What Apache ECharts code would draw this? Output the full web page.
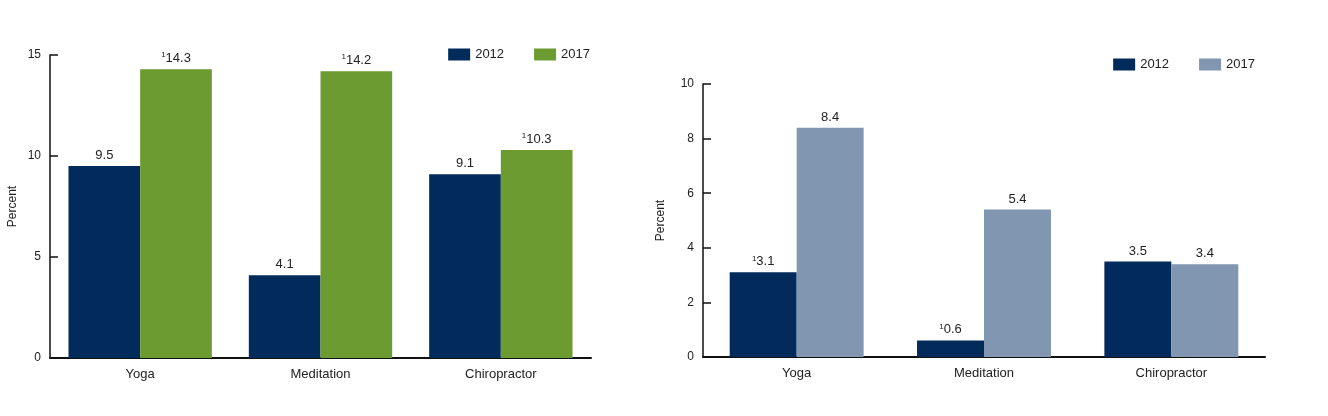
<!DOCTYPE html>
<html><head><meta charset="utf-8">
<script src="https://cdn.jsdelivr.net/npm/echarts@6/dist/echarts.min.js"></script>
<style>html,body{margin:0;padding:0;background:#fff}#c{width:1328px;height:416px}</style>
</head><body><div id="c"></div>
<script>
const categories = ['Yoga', 'Meditation', 'Chiropractor'];
const seriesNames = ['2012', '2017'];
const left2012 = [9.5, 4.1, 9.1];
const left2017 = [14.3, 14.2, 10.3];
const left2012Flag = [false, false, false];
const left2017Flag = [true, true, true];
const right2012 = [3.1, 0.6, 3.5];
const right2017 = [8.4, 5.4, 3.4];
const right2012Flag = [true, true, false];
const right2017Flag = [false, false, false];
const leftTicks = [0, 5, 10, 15];
const rightTicks = [0, 2, 4, 6, 8, 10];

const NAVY = '#022b5c', GREEN = '#6b9b31', GREY = '#8196b0';
const FONT = 'Liberation Sans, Arial, sans-serif';

function mkData(vals, flags) {
  return vals.map((v, i) => ({ value: v, flag: flags[i] }));
}
const labelCfg = {
  show: true, position: 'top', distance: 4, color: '#222', fontSize: 13, fontFamily: FONT,
  formatter: p => (p.data.flag ? '{s|1}' : '') + p.value,
  rich: { s: { fontSize: 8, verticalAlign: 'top', padding: [0, 0, 6, 0], color: '#222', fontFamily: FONT } }
};
function yAxis(idx, ticks) {
  return {
    type: 'value', gridIndex: idx, min: ticks[0], max: ticks[ticks.length - 1], interval: ticks[1] - ticks[0],
    name: 'Percent', nameLocation: 'middle', nameGap: idx === 0 ? 31 : 36,
    nameTextStyle: { color: '#222', fontSize: 12, fontFamily: FONT },
    axisLine: { show: true, lineStyle: { color: '#111', width: 1.5 } },
    axisTick: { show: true, inside: true, length: 8, lineStyle: { color: '#111', width: 1.5 } },
    axisLabel: { color: '#222', fontSize: 12, fontFamily: FONT, margin: 9 },
    splitLine: { show: false }
  };
}
function xAxis(idx) {
  return {
    type: 'category', gridIndex: idx, data: categories,
    axisLine: { show: true, lineStyle: { color: '#111', width: 2 } },
    axisTick: { show: false },
    axisLabel: { color: '#222', fontSize: 13, fontFamily: FONT, margin: 10 }
  };
}
function legend(right, top, c1, c2) {
  return {
    right: right, top: top, itemWidth: 22, itemHeight: 12, itemGap: 30, icon: 'rect',
    textStyle: { color: '#222', fontSize: 13, fontFamily: FONT },
    data: [
      { name: seriesNames[0], itemStyle: { color: c1 } },
      { name: seriesNames[1], itemStyle: { color: c2 } }
    ],
    selectedMode: false
  };
}
const chart = echarts.init(document.getElementById('c'), null, { renderer: 'canvas' });
chart.setOption({
  animation: false,
  textStyle: { fontFamily: FONT },
  grid: [
    { left: 50, right: 737, top: 55, bottom: 58 },
    { left: 703, right: 63, top: 84, bottom: 59 }
  ],
  legend: [legend(733, 43, NAVY, GREEN), legend(68, 53, NAVY, GREY)],
  xAxis: [xAxis(0), xAxis(1)],
  yAxis: [yAxis(0, leftTicks), yAxis(1, rightTicks)],
  series: [
    { name: seriesNames[0], type: 'bar', xAxisIndex: 0, yAxisIndex: 0, data: mkData(left2012, left2012Flag),
      itemStyle: { color: NAVY }, barGap: '0%', barCategoryGap: '20.5%', label: labelCfg },
    { name: seriesNames[1], type: 'bar', xAxisIndex: 0, yAxisIndex: 0, data: mkData(left2017, left2017Flag),
      itemStyle: { color: GREEN }, barGap: '0%', barCategoryGap: '20.5%', label: labelCfg },
    { name: seriesNames[0], type: 'bar', xAxisIndex: 1, yAxisIndex: 1, data: mkData(right2012, right2012Flag),
      itemStyle: { color: NAVY }, barGap: '0%', barCategoryGap: '28.5%', label: labelCfg },
    { name: seriesNames[1], type: 'bar', xAxisIndex: 1, yAxisIndex: 1, data: mkData(right2017, right2017Flag),
      itemStyle: { color: GREY }, barGap: '0%', barCategoryGap: '28.5%', label: labelCfg }
  ]
});
</script></body></html>
